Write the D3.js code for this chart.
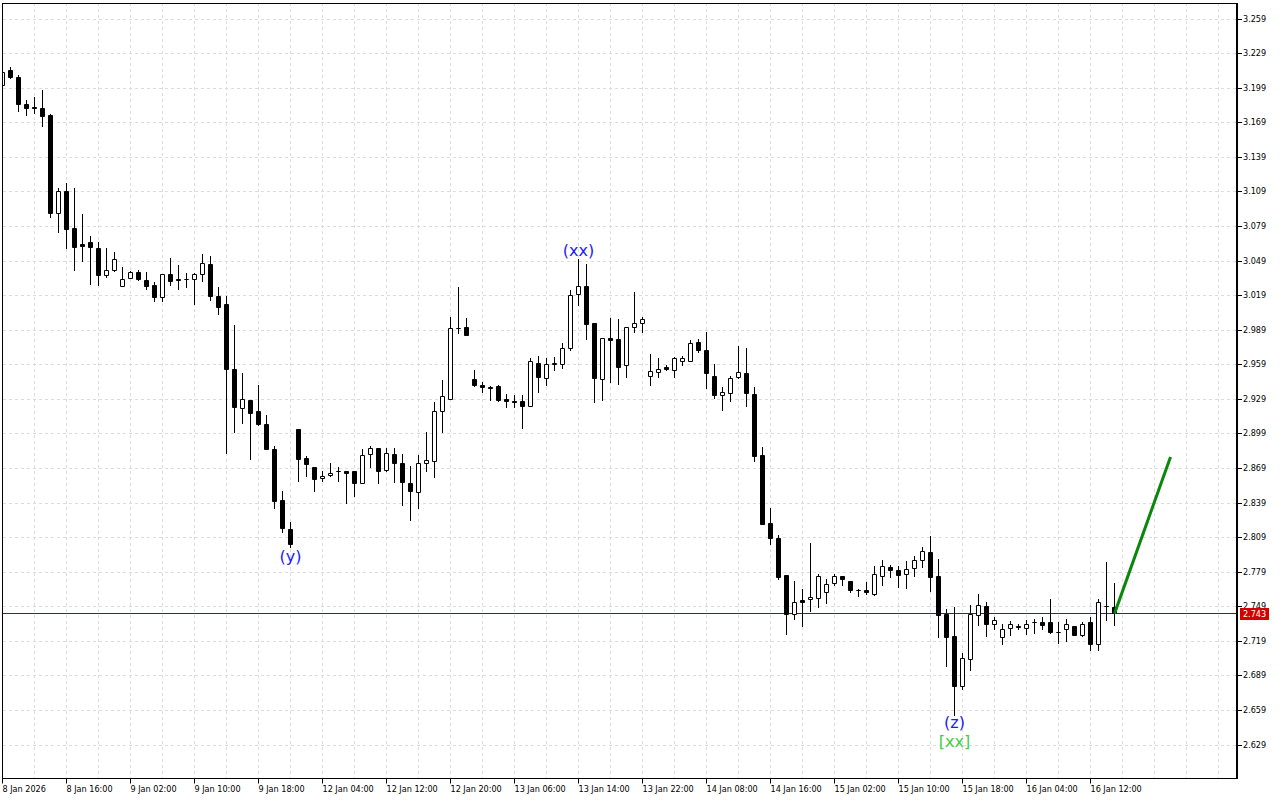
<!DOCTYPE html>
<html><head><meta charset="utf-8">
<script src="https://cdn.jsdelivr.net/npm/d3@7"></script>
<style>body{margin:0;background:#fff;}svg{display:block;}</style>
</head><body><svg id="c" width="1280" height="800"></svg>
<script>
// ---------- DATA ----------
const opens = [3.201,3.214,3.208,3.185,3.182,3.181,3.175,3.090,3.109,3.077,
3.063,3.065,3.060,3.036,3.041,3.027,3.034,3.039,3.032,3.028,
3.017,3.037,3.033,3.033,3.033,3.037,3.046,3.018,3.011,2.955,
2.921,2.928,2.918,2.907,2.885,2.841,2.816,2.903,2.878,2.870,
2.860,2.863,2.866,2.866,2.866,2.856,2.881,2.886,2.867,2.881,
2.873,2.856,2.848,2.873,2.875,2.918,2.929,2.990,2.991,2.946,
2.941,2.939,2.940,2.929,2.927,2.927,2.923,2.960,2.947,2.959,
2.959,2.973,3.020,3.027,2.995,2.946,2.982,2.981,2.958,2.991,
2.995,2.949,2.952,2.957,2.954,2.962,2.962,2.978,2.971,2.949,
2.932,2.934,2.948,2.951,2.933,2.880,2.821,2.808,2.776,2.742,
2.754,2.755,2.756,2.761,2.769,2.775,2.771,2.763,2.763,2.760,
2.775,2.783,2.780,2.777,2.782,2.789,2.796,2.775,2.742,2.723,
2.680,2.703,2.741,2.749,2.734,2.722,2.730,2.732,2.730,2.735,
2.735,2.735,2.727,2.729,2.732,2.724,2.735,2.716,2.749,2.748];
const highs = [3.215,3.217,3.210,3.188,3.191,3.197,3.176,3.112,3.116,3.112,
3.089,3.070,3.065,3.060,3.056,3.043,3.040,3.041,3.039,3.030,
3.037,3.051,3.045,3.038,3.038,3.055,3.053,3.026,3.018,2.993,
2.951,2.928,2.941,2.915,2.888,2.849,2.822,2.903,2.879,2.870,
2.866,2.873,2.870,2.866,2.866,2.885,2.888,2.886,2.886,2.886,
2.881,2.871,2.880,2.900,2.926,2.945,3.000,3.026,2.999,2.954,
2.944,2.940,2.941,2.933,2.932,2.932,2.964,2.966,2.964,2.965,
2.977,3.023,3.050,3.046,2.995,2.982,2.999,2.998,2.991,3.022,
3.000,2.968,2.964,2.958,2.965,2.966,2.980,2.981,2.987,2.959,
2.939,2.949,2.975,2.973,2.939,2.887,2.834,2.811,2.776,2.771,
2.764,2.804,2.777,2.773,2.777,2.775,2.771,2.764,2.770,2.784,
2.789,2.785,2.784,2.788,2.793,2.800,2.810,2.790,2.747,2.748,
2.708,2.750,2.760,2.753,2.740,2.734,2.736,2.734,2.737,2.738,
2.740,2.755,2.735,2.738,2.732,2.735,2.740,2.755,2.787,2.769];
const lows = [3.199,3.207,3.179,3.175,3.177,3.166,3.087,3.074,3.060,3.041,
3.049,3.029,3.028,3.035,3.040,3.027,3.034,3.032,3.024,3.014,
3.014,3.028,3.024,3.026,3.011,3.031,3.015,3.003,2.882,2.900,
2.908,2.877,2.906,2.885,2.834,2.813,2.800,2.858,2.862,2.849,
2.858,2.862,2.858,2.839,2.845,2.856,2.870,2.856,2.866,2.857,
2.837,2.824,2.834,2.866,2.861,2.900,2.929,2.986,2.984,2.940,
2.935,2.928,2.927,2.922,2.922,2.904,2.923,2.935,2.941,2.954,
2.956,2.971,3.010,2.981,2.926,2.928,2.944,2.942,2.948,2.987,
2.987,2.941,2.948,2.954,2.948,2.958,2.962,2.970,2.938,2.930,
2.919,2.927,2.947,2.923,2.875,2.820,2.803,2.773,2.725,2.738,
2.732,2.745,2.748,2.752,2.767,2.767,2.761,2.758,2.760,2.759,
2.767,2.774,2.766,2.765,2.775,2.783,2.762,2.722,2.697,2.655,
2.677,2.694,2.733,2.723,2.729,2.716,2.724,2.729,2.725,2.726,
2.729,2.726,2.717,2.719,2.724,2.723,2.711,2.711,2.737,2.733];
const closes = [3.213,3.208,3.185,3.181,3.181,3.174,3.090,3.109,3.076,3.061,
3.062,3.061,3.036,3.041,3.050,3.033,3.039,3.033,3.027,3.017,
3.037,3.031,3.032,3.033,3.037,3.047,3.018,3.009,2.955,2.922,
2.929,2.917,2.907,2.885,2.840,2.817,2.803,2.877,2.872,2.859,
2.862,2.865,2.866,2.865,2.856,2.880,2.886,2.866,2.882,2.873,
2.857,2.849,2.873,2.876,2.918,2.931,2.990,2.990,2.984,2.941,
2.939,2.938,2.928,2.927,2.926,2.923,2.962,2.948,2.959,2.960,
2.973,3.019,3.027,2.994,2.947,2.982,2.980,2.957,2.991,2.995,
2.998,2.953,2.955,2.955,2.964,2.964,2.977,2.971,2.951,2.932,
2.935,2.947,2.952,2.934,2.879,2.820,2.808,2.774,2.742,2.753,
2.753,2.757,2.775,2.768,2.775,2.773,2.763,2.763,2.761,2.777,
2.784,2.780,2.776,2.781,2.789,2.797,2.774,2.741,2.722,2.680,
2.704,2.742,2.750,2.734,2.737,2.729,2.734,2.731,2.734,2.735,
2.733,2.727,2.727,2.734,2.724,2.734,2.716,2.753,2.749,2.743];

const xTickBars = [0,8,16,24,32,40,48,56,64,72,80,88,96,104,112,120,128,136];
const xTickLabels = ["8 Jan 2026","8 Jan 16:00","9 Jan 02:00","9 Jan 10:00","9 Jan 18:00",
"12 Jan 04:00","12 Jan 12:00","12 Jan 20:00","13 Jan 06:00","13 Jan 14:00","13 Jan 22:00",
"14 Jan 08:00","14 Jan 16:00","15 Jan 02:00","15 Jan 10:00","15 Jan 18:00","16 Jan 04:00","16 Jan 12:00"];
const yTickValues = [3.259,3.229,3.199,3.169,3.139,3.109,3.079,3.049,3.019,2.989,2.959,
2.929,2.899,2.869,2.839,2.809,2.779,2.749,2.719,2.689,2.659,2.629];
const currentPrice = 2.743;

const waveTexts = ["(y)","(xx)","(z)","[xx]"];
const waveBars = [36,72,119,119];
const wavePrices = [2.800,3.050,2.655,2.655];

const forecastBars = [139,146];
const forecastPrices = [2.743,2.879];

// ---------- STYLE ----------
const AXFONT = "'DejaVu Sans Condensed', 'DejaVu Sans', sans-serif";
const FONT = "'DejaVu Sans', 'Liberation Sans', sans-serif";
const waveColors = ["#1a1aff","#1a1aff","#1a1aff","#3fcf3f"];
const waveDy = [14,-4,13,32];

// ---------- DRAW ----------
const svg = d3.select("#c");
svg.append("rect").attr("width",1280).attr("height",800).attr("fill","#fff");

const x = d3.scaleLinear().domain([0,139]).range([2.5,1114.5]);
const y = d3.scaleLinear().domain([2.629,3.259]).range([745,19]);
const py = v => Math.floor(y(v)) + 0.5;

svg.append("defs").append("clipPath").attr("id","plot")
  .append("rect").attr("x",3).attr("y",3).attr("width",1233).attr("height",775);
const plot = svg.append("g").attr("clip-path","url(#plot)");

// grid
const gridBars = d3.range(4,155,4);
plot.append("g").selectAll("line").data(gridBars).join("line")
  .attr("x1",d=>x(d)).attr("x2",d=>x(d)).attr("y1",3).attr("y2",778)
  .attr("stroke","#dcdcdc").attr("stroke-dasharray","3,3");
plot.append("g").selectAll("line").data(yTickValues).join("line")
  .attr("x1",3).attr("x2",1236).attr("y1",d=>py(d)).attr("y2",d=>py(d))
  .attr("stroke","#dcdcdc").attr("stroke-dasharray","3,3");

// current price line
plot.append("line").attr("x1",3).attr("x2",1236)
  .attr("y1",py(currentPrice)).attr("y2",py(currentPrice))
  .attr("stroke","#a80000").attr("stroke-width",1);

// candles
const bars = opens.map((o,i)=>({i,o,h:highs[i],l:lows[i],c:closes[i]}));
plot.append("g").selectAll("line").data(bars).join("line")
  .attr("x1",d=>x(d.i)).attr("x2",d=>x(d.i))
  .attr("y1",d=>Math.floor(y(d.h))).attr("y2",d=>Math.floor(y(d.l))+1)
  .attr("stroke","#000");
plot.append("g").selectAll("path").data(bars).join("path")
  .attr("d",d=>{
    const t = py(Math.max(d.o,d.c)), b = py(Math.min(d.o,d.c)), cx = x(d.i);
    return `M${cx-2},${t}H${cx+2}V${b}H${cx-2}Z`;
  })
  .attr("fill",d=>d.c>d.o?"#fff":"#000").attr("stroke","#000");

// forecast line
plot.append("path")
  .datum(forecastBars.map((b,k)=>[b,forecastPrices[k]]))
  .attr("d",d3.line().x(d=>x(d[0])).y(d=>y(d[1])))
  .attr("fill","none").attr("stroke","#0a870a").attr("stroke-width",3);

// wave labels
svg.append("g").selectAll("text").data(waveTexts).join("text")
  .attr("x",(d,k)=>x(waveBars[k])).attr("y",(d,k)=>y(wavePrices[k])+waveDy[k])
  .attr("text-anchor","middle").attr("font-family",FONT).attr("font-size",16)
  .attr("fill",(d,k)=>waveColors[k]).text(d=>d);

// frame
svg.append("rect").attr("x",2.5).attr("y",3.5).attr("width",1234).attr("height",775)
  .attr("fill","none").attr("stroke","#000");
svg.append("line").attr("x1",1237).attr("x2",1237).attr("y1",3).attr("y2",779)
  .attr("stroke","#000").attr("stroke-width",2);

// y axis
const gy = svg.append("g").attr("transform","translate(1238,0)")
  .call(d3.axisRight(y).tickValues(yTickValues).tickFormat(d3.format(".3f"))
    .tickSize(4).tickPadding(1).offset(0));
gy.select(".domain").remove();
gy.attr("font-family",AXFONT).attr("font-size",9);
gy.selectAll("line").attr("shape-rendering","crispEdges");
gy.selectAll(".tick").attr("transform",d=>`translate(0,${py(d)})`);

// x axis
const gx = svg.append("g").attr("transform","translate(0,778.5)")
  .call(d3.axisBottom(x).tickValues(xTickBars)
    .tickFormat(d=>xTickLabels[xTickBars.indexOf(d)])
    .tickSize(5).tickPadding(2).offset(0));
gx.select(".domain").remove();
gx.attr("font-family",AXFONT).attr("font-size",9);
gx.selectAll("text").attr("text-anchor","start").attr("x",0);

// current price tag
const tagY = py(currentPrice);
svg.append("rect").attr("x",1240).attr("y",tagY-5.5).attr("width",29).attr("height",12)
  .attr("fill","#d20000");
svg.append("text").attr("x",1254.5).attr("y",tagY+3.5).attr("text-anchor","middle")
  .attr("font-family",AXFONT).attr("font-size",9).attr("fill","#fff")
  .text(d3.format(".3f")(currentPrice));
</script>
</body></html>
